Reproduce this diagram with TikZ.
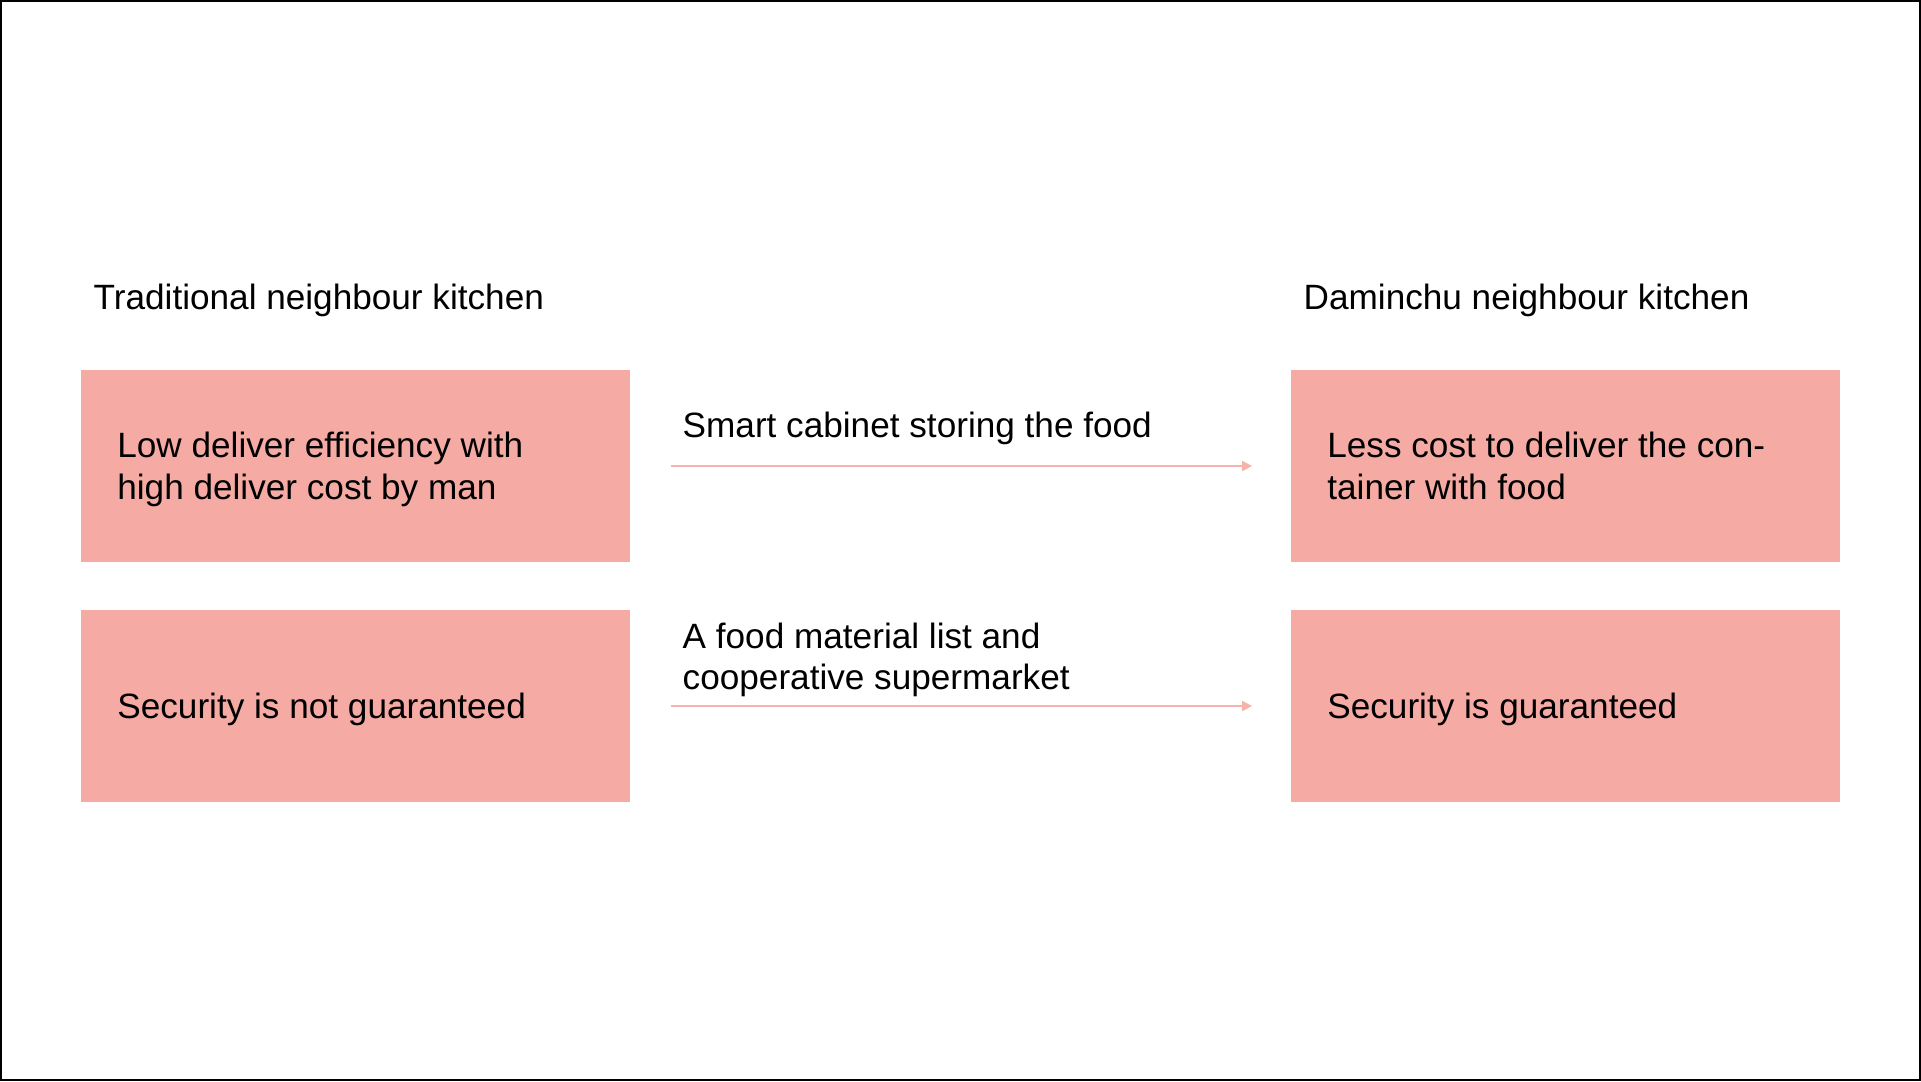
\documentclass[tikz,border=0pt]{standalone}
\usepackage{fontspec}
\setmainfont{Liberation Sans}
\usetikzlibrary{arrows.meta}
\definecolor{boxpink}{HTML}{F5AAA4}
\definecolor{arrowpink}{HTML}{F8B2AC}
\begin{document}
\begin{tikzpicture}
[x=0.01cm,y=-0.01cm,
 txt/.style={font=\fontsize{10pt}{11.8pt}\selectfont,inner sep=0pt,align=left},
 pinkbox/.style={fill=boxpink,minimum width=5.49cm,minimum height=1.92cm,inner sep=0pt},
 flow/.style={arrowpink,line width=0.02cm,-{Triangle[length=0.1cm,width=0.1cm]},shorten <=0.4cm,shorten >=0.38cm}]
\useasboundingbox (0,0) rectangle (1921,1081);
\draw [line width=0.02cm] (1,1) rectangle (1920,1080);
% titles
\node [txt,anchor=west] (tradtitle) at (93,300) {Traditional neighbour kitchen};
\node [txt,anchor=west] (damtitle) at (1303,300) {Daminchu neighbour kitchen};
% boxes
\node [pinkbox] (tradcost) at (355.5,466) {};
\node [pinkbox] (tradsafe) at (355.5,706) {};
\node [pinkbox] (damcost) at (1565.5,466) {};
\node [pinkbox] (damsafe) at (1565.5,706) {};
\node [txt,anchor=west] (tradcosttxt) at ([xshift=0.365cm,yshift=-1pt]tradcost.west) {Low deliver efficiency with\\high deliver cost by man};
\node [txt,anchor=west] (tradsafetxt) at ([xshift=0.365cm,yshift=-1pt]tradsafe.west) {Security is not guaranteed};
\node [txt,anchor=west] (damcosttxt) at ([xshift=0.365cm]damcost.west) {Less cost to deliver the con-\\tainer with food};
\node [txt,anchor=west] (damsafetxt) at ([xshift=0.365cm,yshift=-1pt]damsafe.west) {Security is guaranteed};
% arrows
\draw [flow] (tradcost) -- (damcost);
\draw [flow] (tradsafe) -- (damsafe);
\node [txt,anchor=west] (cabinet) at (682,428) {Smart cabinet storing the food};
\node [txt,anchor=west] (market) at (682,660) {A food material list and\\cooperative supermarket};
\end{tikzpicture}
\end{document}
